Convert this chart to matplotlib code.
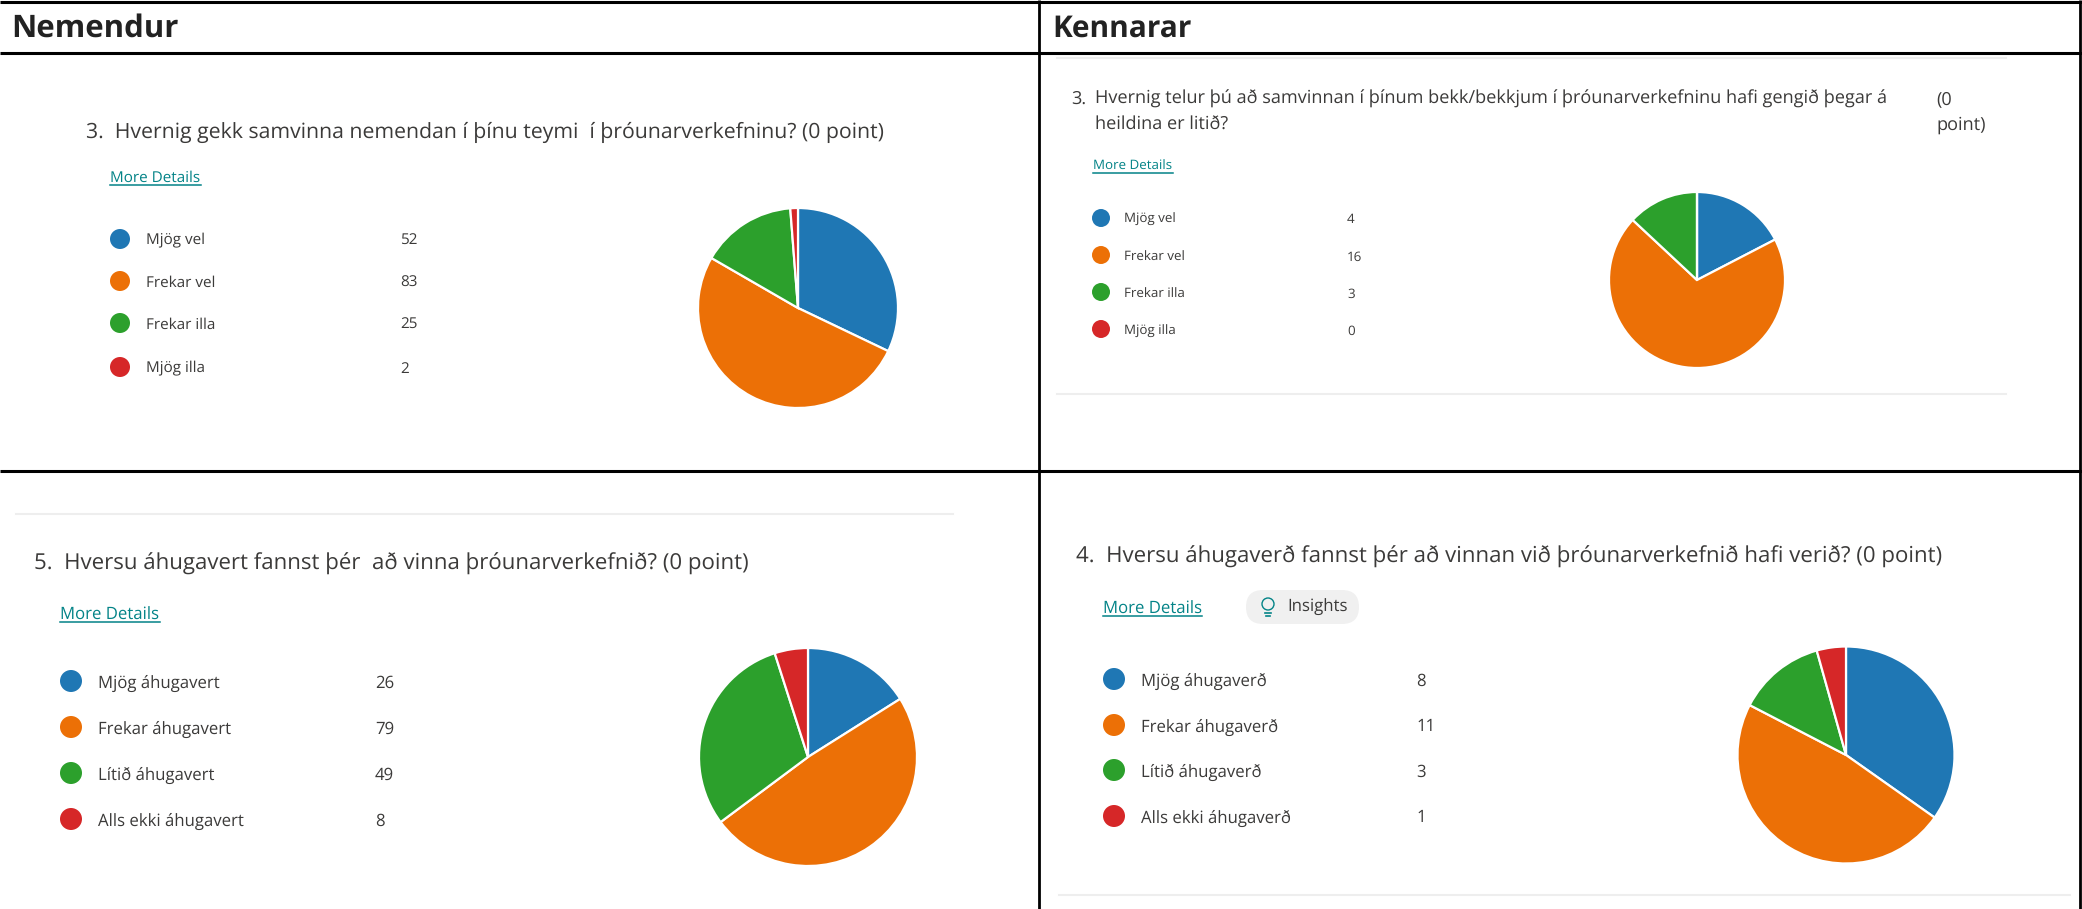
import matplotlib
matplotlib.use("Agg")
import matplotlib.pyplot as plt
from matplotlib.patches import Circle, FancyBboxPatch

W = 2082
H = 909

# data
labels_nem_3 = ["Mjög vel", "Frekar vel", "Frekar illa", "Mjög illa"]
values_nem_3 = [52, 83, 25, 2]
labels_ken_3 = ["Mjög vel", "Frekar vel", "Frekar illa", "Mjög illa"]
values_ken_3 = [4, 16, 3, 0]
labels_nem_5 = ["Mjög áhugavert", "Frekar áhugavert", "Lítið áhugavert", "Alls ekki áhugavert"]
values_nem_5 = [26, 79, 49, 8]
labels_ken_4 = ["Mjög áhugaverð", "Frekar áhugaverð", "Lítið áhugaverð", "Alls ekki áhugaverð"]
values_ken_4 = [8, 11, 3, 1]

colors = ["#1f77b4", "#ec7006", "#2ca02c", "#d62728"]
txt = "#3b3a39"
link = "#038387"
sep = "#eeeeee"

plt.rcParams["font.family"] = ["Open Sans", "DejaVu Sans"]
plt.rcParams["text.hinting"] = "no_hinting"

fig = plt.figure(figsize=(W / 100, H / 100), dpi=100)
bg = fig.add_axes([0, 0, 1, 1])
bg.set_xlim(0, W)
bg.set_ylim(H, 0)
bg.axis("off")


def pie_at(cx, cy, r, values):
    # axes a bit bigger than the pie so the edge is not clipped
    r2 = r * 1.02
    ax = fig.add_axes([(cx - r2) / W, 1 - (cy + r2) / H, 2 * r2 / W, 2 * r2 / H])
    ax.pie(values, colors=colors, startangle=90, counterclock=False, radius=1,
           wedgeprops={"edgecolor": "white", "linewidth": 1.6})
    ax.set_xlim(-1.02, 1.02)
    ax.set_ylim(-1.02, 1.02)


def label(x, y, s, size, color=txt):
    # open sans sits a little high with va=center
    bg.text(x, y + 2, s, color=color, fontsize=size, va="center")


def link_text(x, y, x_end, size):
    label(x, y, "More Details", size, link)
    bg.plot([x, x_end], [y + 9, y + 9], color=link, lw=1.1)


def legend(cx, ys, r, tx, vx, labels, values, size):
    for y, lab, val, c in zip(ys, labels, values, colors):
        bg.add_patch(Circle((cx, y), r, color=c, lw=0))
        label(tx, y, lab, size)
        label(vx, y, str(val), size)


# table lines
for y in [2, 53, 471]:
    bg.plot([0, W], [y, y], color="black", lw=2.2, solid_capstyle="butt")
for x in [1039, 2080]:
    bg.plot([x, x], [0, H], color="black", lw=2.0, solid_capstyle="butt")

bg.text(11, 29, "Nemendur", fontsize=22.4, fontweight="bold", color="#222222", va="center")
bg.text(1052, 29, "Kennarar", fontsize=21.5, fontweight="bold", color="#222222", va="center")

# Nemendur 3
label(86, 130, "3.  Hvernig gekk samvinna nemendan í þínu teymi  í þróunarverkefninu? (0 point)", 15.3)
link_text(110, 176, 201, 11)
legend(120, [239, 281, 323, 367], 10, 146, 400, labels_nem_3, values_nem_3, 11)
pie_at(798, 308, 100, values_nem_3)

# Kennarar 3
bg.plot([1057, 2006], [58, 58], color=sep, lw=1.5)
bg.plot([1057, 2006], [394, 394], color=sep, lw=1.5)
label(1071, 97, "3.", 13.1)
label(1095, 97, "Hvernig telur þú að samvinnan í þínum bekk/bekkjum í þróunarverkefninu hafi gengið þegar á", 13.1)
label(1095, 123, "heildina er litið?", 13.1)
label(1936, 97, "(0", 13.1)
label(1936, 123, "point)", 13.1)
link_text(1093, 164, 1173, 9.6)
legend(1101, [218, 255, 292, 329], 9, 1124, 1347, labels_ken_3, values_ken_3, 9.6)
pie_at(1697, 280, 88, values_ken_3)

# Nemendur 5
bg.plot([16, 953], [514, 514], color=sep, lw=1.5)
label(34, 562, "5.  Hversu áhugavert fannst þér  að vinna þróunarverkefnið? (0 point)", 16)
link_text(60, 613, 160, 12.1)
legend(71, [681, 727, 773, 819], 11, 98, 375, labels_nem_5, values_nem_5, 12.1)
pie_at(808, 757, 109, values_nem_5)

# Kennarar 4
bg.plot([1059, 2070], [895, 895], color=sep, lw=1.5)
label(1076, 555, "4.  Hversu áhugaverð fannst þér að vinnan við þróunarverkefnið hafi verið? (0 point)", 16)
link_text(1103, 607, 1202, 12.1)
bg.add_patch(FancyBboxPatch((1246, 590), 113, 34, boxstyle="round,pad=0,rounding_size=17",
                            fc="#f0f0f0", ec="none"))
bg.add_patch(Circle((1268, 604), 6, fc="none", ec=link, lw=1))
bg.plot([1265, 1271], [613, 613], color=link, lw=1.2)
bg.plot([1266, 1270], [616, 616], color=link, lw=1.2)
label(1287, 605, "Insights", 12.1)
legend(1114, [679, 725, 770, 816], 11, 1141, 1416, labels_ken_4, values_ken_4, 12.1)
pie_at(1846, 755, 108.5, values_ken_4)

fig.savefig("out.png", dpi=100, facecolor="white")
